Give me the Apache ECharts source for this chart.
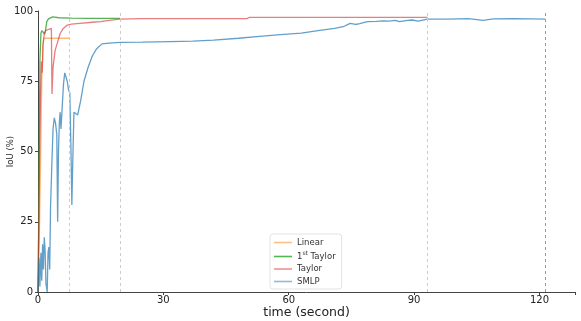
<!DOCTYPE html>
<html><head><meta charset="utf-8">
<script src="https://cdn.jsdelivr.net/npm/echarts@6/dist/echarts.min.js"></script>
<style>html,body{margin:0;padding:0;background:#fff}#c{width:581px;height:321px}</style>
</head><body><div id="c"></div>
<script>
var seriesNames = ['Linear', '1st Taylor', 'Taylor', 'SMLP'];
var xTicks = [0, 30, 60, 90, 120];
var yTicks = [0, 25, 50, 75, 100];

var linearTime = [0, 0.3, 0.6, 0.9, 1.2, 1.4, 7.5];
var linearIoU  = [0, 18, 45, 75, 88, 90.3, 90.3];

var taylor1Time = [0, 0.2, 0.45, 0.7, 0.9, 1.1, 1.3, 1.6, 1.8, 2.1, 2.5, 2.9, 3.5, 5, 8, 12, 19.6];
var taylor1IoU  = [0, 30, 82, 92, 93, 92.5, 93.2, 91.8, 93, 96.2, 97.2, 97.8, 97.9, 97.6, 97.5, 97.4, 97.4];

var taylorTime = [0, 0.2, 0.4, 0.6, 0.8, 1.0, 1.2, 1.5, 1.8, 2.2, 2.6, 2.9, 3.2, 3.35, 3.6, 4.1, 4.7, 5.3, 6.0, 7.0, 8, 10, 13, 15, 17, 19.6, 25, 30, 40, 50, 50.5, 70, 93.2];
var taylorIoU  = [0, 25, 50, 70, 82, 78, 88, 92, 93, 92.5, 93.5, 94, 93.8, 70.5, 80, 86, 89, 92, 93.7, 95, 95.3, 95.6, 96, 96.2, 96.7, 97.1, 97.3, 97.3, 97.3, 97.3, 97.7, 97.7, 97.7];

var smlpTime = [0, 0.25, 0.45, 0.7, 0.9, 1.1, 1.3, 1.5, 1.7, 1.9, 2.2, 2.4, 2.6, 2.8, 3.0, 3.3, 3.6, 3.9, 4.2, 4.5, 4.7, 4.9, 5.1, 5.3, 5.5, 5.8, 6.1, 6.4, 6.7, 7.0, 7.3, 7.6, 7.9, 8.1, 8.3, 8.6, 9.0, 9.5, 10.2, 11.0, 12.0, 13.0, 14.0, 15.3, 17, 19.6, 25, 31.6, 37, 42, 48, 53, 58, 63, 67, 71, 73, 74.7, 76, 77, 78.8, 81, 82.6, 84, 85.5, 86.5, 88, 89.5, 91, 93.2, 98, 103, 106.5, 109, 114, 118, 121.4];
var smlpIoU  = [0, 12, 2, 14, 4, 17, 8, 19.5, 15, 3, 0, 14, 16, 8, 30, 45, 58, 62, 60, 56, 25, 50, 60, 64, 58, 66, 74, 78, 78, 75, 72, 71, 50, 31, 45, 64, 64, 63, 68, 75, 80, 84, 86.5, 88.3, 88.6, 88.8, 88.9, 89.1, 89.3, 89.6, 90.3, 91.0, 91.6, 92.1, 93.0, 93.8, 94.4, 95.6, 95.2, 95.5, 96.2, 96.3, 96.5, 96.4, 96.7, 96.2, 96.6, 96.8, 96.4, 97.1, 97.1, 97.3, 96.7, 97.2, 97.3, 97.2, 97.1];

var endTimes = [7.5, 19.6, 93.2, 121.4];

function pairs(t, v) { return t.map(function (x, i) { return [x, v[i]]; }); }

var colors = ['#ff7f0e', '#2ca02c', '#d62728', '#1f77b4'];
var opac = [0.55, 0.8, 0.6, 0.7];
var legendColors = ['#ffbf86', '#4fb84f', '#ec9394', '#8cbbdc'];
var datas = [pairs(linearTime, linearIoU), pairs(taylor1Time, taylor1IoU), pairs(taylorTime, taylorIoU), pairs(smlpTime, smlpIoU)];

var series = seriesNames.map(function (n, i) {
  return {
    name: n, type: 'line', data: datas[i], symbol: 'none', animation: false,
    color: colors[i],
    lineStyle: { width: 1.3, color: colors[i], opacity: opac[i] },
    markLine: {
      silent: true, symbol: 'none', animation: false,
      label: { show: false },
      lineStyle: { color: i === 3 ? '#999' : '#ccc', type: [3, 3], width: 1, opacity: 1 },
      data: [{ xAxis: endTimes[i] }]
    }
  };
});

var chart = echarts.init(document.getElementById('c'), null, { renderer: 'canvas' });
chart.setOption({
  animation: false,
  textStyle: { fontFamily: 'DejaVu Sans' },
  grid: { left: 38, right: 6, top: 11, bottom: 29, containLabel: false, outerBoundsMode: 'none' },
  legend: {
    data: seriesNames.map(function (n, i) {
      return { name: n, icon: 'rect', itemStyle: { color: legendColors[i], opacity: 1 } };
    }),
    orient: 'vertical', left: 270, top: 234,
    backgroundColor: '#fff', borderColor: '#e2e2e2', borderWidth: 1, borderRadius: 3,
    padding: [4, 6, 3, 4], itemGap: 3.5, itemWidth: 18, itemHeight: 1.6,
    textStyle: {
      fontSize: 8.5, color: '#333', fontFamily: 'DejaVu Sans', lineHeight: 8,
      rich: { sup: { fontSize: 6, verticalAlign: 'bottom', padding: [0, 0, 4, 0], color: '#333', fontFamily: 'DejaVu Sans' } }
    },
    formatter: function (n) { return n === '1st Taylor' ? '1{sup|st} Taylor' : n; }
  },
  xAxis: {
    type: 'value', min: 0, max: 128.5, interval: 30,
    name: 'time (second)', nameLocation: 'middle', nameGap: 14, nameMoveOverlap: false,
    nameTextStyle: { fontSize: 12.5, color: '#222', fontFamily: 'DejaVu Sans' },
    axisLine: { lineStyle: { color: '#444', width: 1 } },
    axisTick: { show: true, length: 3, lineStyle: { color: '#444' } },
    axisLabel: { fontSize: 10, color: '#222', margin: 3,
      formatter: function (v) { return xTicks.indexOf(v) >= 0 ? String(v) : ''; } },
    splitLine: { show: false }
  },
  yAxis: {
    type: 'value', min: 0, max: 100, interval: 25, offset: 2,
    name: 'IoU (%)', nameLocation: 'middle', nameGap: 21, nameMoveOverlap: false,
    nameTextStyle: { fontSize: 8.5, color: '#222', fontFamily: 'DejaVu Sans' },
    axisLine: { show: true, lineStyle: { color: '#444', width: 1 } },
    axisTick: { show: true, length: 3, lineStyle: { color: '#444' } },
    axisLabel: { fontSize: 10, color: '#222', margin: 3,
      formatter: function (v) { return yTicks.indexOf(v) >= 0 ? String(v) : ''; } },
    splitLine: { show: false }
  },
  series: series
});
</script></body></html>
